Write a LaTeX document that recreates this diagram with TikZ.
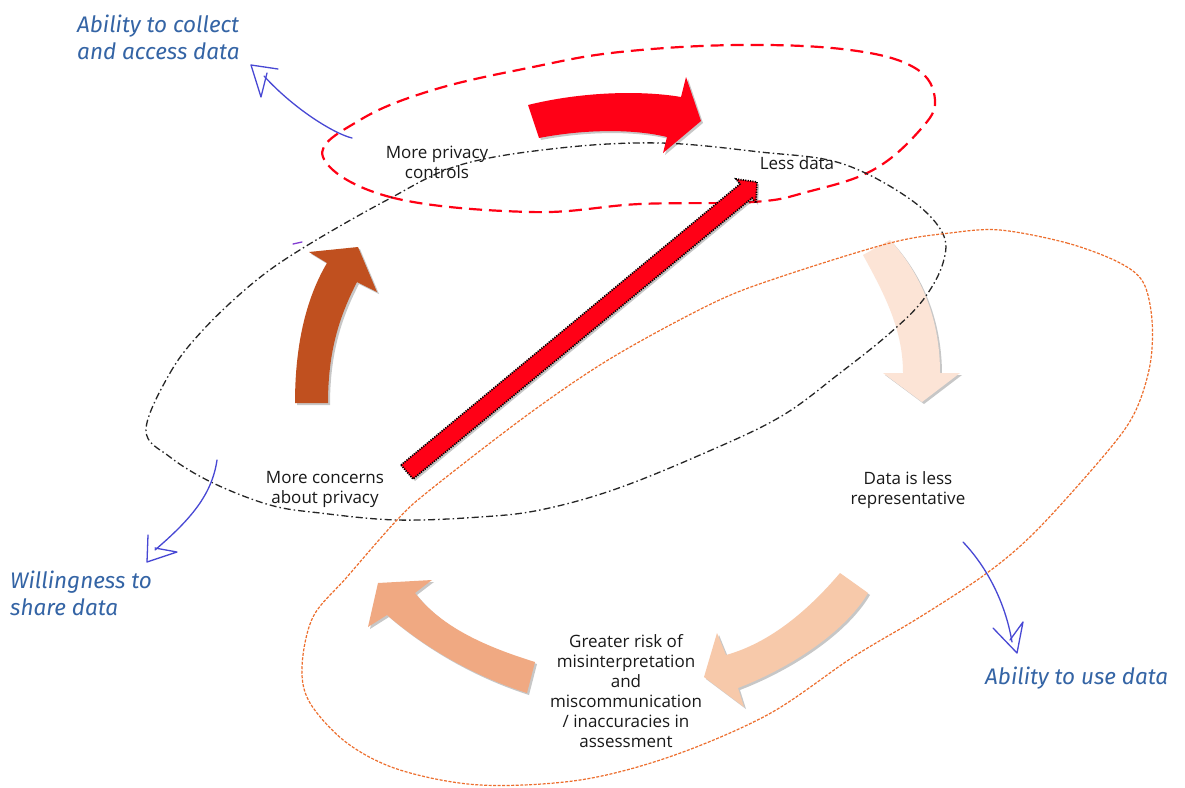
\documentclass[tikz,border=0pt]{standalone}
\usepackage{fontspec}
\setmainfont{Open Sans}
\newfontfamily\hand{Fira Sans}
\usetikzlibrary{shadows}
\definecolor{redarr}{RGB}{255,0,22}
\definecolor{brownarr}{RGB}{192,80,31}
\definecolor{peach}{RGB}{252,228,214}
\definecolor{salmonlt}{RGB}{247,201,170}
\definecolor{salmon}{RGB}{240,169,130}
\definecolor{orangeline}{RGB}{237,110,45}
\definecolor{redline}{RGB}{255,0,20}
\definecolor{bluepen}{RGB}{72,72,212}
\definecolor{bluetext}{RGB}{52,100,165}
\definecolor{purplepen}{RGB}{130,60,210}
\tikzset{
  blockarrow/.style={draw=none, drop shadow={shadow xshift=2pt, shadow yshift=-2pt, opacity=0.22, fill=black}},
  lbl/.style={inner sep=0pt, align=center, font=\fontsize{17}{20}\selectfont, text=black!90},
  handlbl/.style={inner sep=0pt, align=left, font=\hand\itshape\fontsize{22.5}{27}\selectfont, text=bluetext},
  pen/.style={draw=bluepen, line width=1.3pt, line cap=round, line join=round},
  redloop/.style={draw=redline, line width=2.2pt, dash pattern=on 13pt off 7pt},
  blackloop/.style={draw=black!85, line width=1.3pt, dash pattern=on 7pt off 3pt on 1.5pt off 3pt},
  orangeloop/.style={draw=orangeline, line width=1.2pt, dash pattern=on 3pt off 1.5pt},
}
\begin{document}
\begin{tikzpicture}[x=1pt,y=-1pt]
\useasboundingbox (0,0) rectangle (1185,787);
\fill[white] (0,0) rectangle (1185,787);

% peach arrow (under the loops)
\path[blockarrow, fill=peach] (863,255) .. controls (885,295) and (903,330) .. (903,373)
  -- (883,373) -- (922,402) -- (960,373) -- (940,373)
  .. controls (940,320) and (922,275) .. (890,240) -- cycle;

% loops
\draw[redloop] plot[smooth cycle, tension=0.65] coordinates {
 (323,157) (390,197) (530,212) (640,204) (753,202) (807,192) (873,170) (920,130)
 (935,100) (915,68) (850,50) (740,45) (620,52) (533,67) (433,90) (360,120)};
\draw[blackloop] plot[smooth cycle, tension=0.6] coordinates {
 (146,430) (170,373) (203,330) (253,283) (303,248) (387,200) (460,165) (560,148)
 (660,143) (760,152) (840,163) (907,197) (942,232) (943,263) (923,300) (890,333)
 (840,373) (780,417) (700,455) (613,490) (540,510) (480,517) (397,520) (320,513)
 (270,505) (213,483) (170,457)};
\draw[orangeloop] plot[smooth cycle, tension=0.55] coordinates {
 (1000,230) (1067,243) (1118,262) (1143,282) (1152,320) (1150,365) (1135,412) (1107,452)
 (1037,530) (987,573) (920,617) (853,657) (769,714) (672,756) (580,780) (480,785)
 (400,770) (347,743) (310,703) (302,667) (313,617) (347,577) (397,520) (430,490)
 (530,413) (613,357) (713,303) (780,277) (890,243) (950,233)};

% block arrows
\path[blockarrow, fill=redarr] (528,105) .. controls (580,92) and (640,90) .. (681,97)
  -- (686,77) -- (701,121) -- (663,153) -- (667,137)
  .. controls (630,128) and (580,130) .. (539,138) -- cycle;
\path[blockarrow, fill=brownarr] (295,403) .. controls (295,340) and (308,295) .. (327,263)
  -- (309,252) -- (358,247) -- (377,292) -- (357,282)
  .. controls (340,315) and (328,350) .. (328,403) -- cycle;
\path[blockarrow, fill=salmonlt] (840,573) .. controls (800,620) and (762,645) .. (726,655)
  -- (717,633) -- (704,677) -- (744,707) -- (738,688)
  .. controls (790,668) and (845,632) .. (868,593) -- cycle;
\path[blockarrow, fill=salmon] (535,662) .. controls (480,645) and (440,625) .. (415,593)
  -- (432,580) -- (378,583) -- (368,627) -- (387,615)
  .. controls (430,652) and (480,678) .. (527,693) -- cycle;

% diagonal arrow
\path[blockarrow, fill=redarr] (401,465) -- (740,184) -- (736,179) -- (757,182)
  -- (756,203) -- (752,198) -- (413,479) -- cycle;
\draw[black, line width=1.7pt, dash pattern=on 1.2pt off 1.2pt] (401,465) -- (740,184) -- (736,179) -- (757,182)
  -- (756,203) -- (752,198) -- (413,479) -- cycle;

% text labels
\node[lbl] (privctl) at (437,162) {More privacy\\controls};
\node[lbl] (lessdata) at (797,163) {Less data};
\node[lbl] (concerns) at (325,489) {More concerns\\about privacy};
\node[lbl] (represent) at (908,490) {Data is less\\representative};
\node[lbl] (risk) at (626,691) {Greater risk of\\misinterpretation\\and\\miscommunication\\/ inaccuracies in\\assessment};

\node[handlbl, anchor=west] (collect) at (77,37) {Ability to collect\\and access data};
\node[handlbl, anchor=west] (willing) at (10,593) {Willingness to\\share data};
\node[handlbl, anchor=west] (usedata) at (985,678) {Ability to use data};

% hand-drawn pointers
\coordinate (p1s) at (352,138);
\coordinate (p1e) at (264,76);
\draw[pen] (p1s) .. controls (335,134) and (295,110) .. (p1e);
\draw[pen] (278,69) -- (251,65) -- (261,97) -- (267,73);

\coordinate (p2s) at (217,460);
\coordinate (p2e) at (155,550);
\draw[pen] (p2s) .. controls (212,495) and (190,520) .. (p2e);
\draw[pen] (148,535) -- (147,562) -- (177,552) -- (155,548);

\coordinate (p3s) at (963,542);
\coordinate (p3e) at (1012,642);
\draw[pen] (p3s) .. controls (985,565) and (1005,600) .. (p3e);
\draw[pen] (993,628) -- (1017,653) -- (1023,622) -- (1010,640);

\draw[draw=purplepen, line width=1.3pt, line cap=round] (293,244) -- (302,242);
\end{tikzpicture}
\end{document}
